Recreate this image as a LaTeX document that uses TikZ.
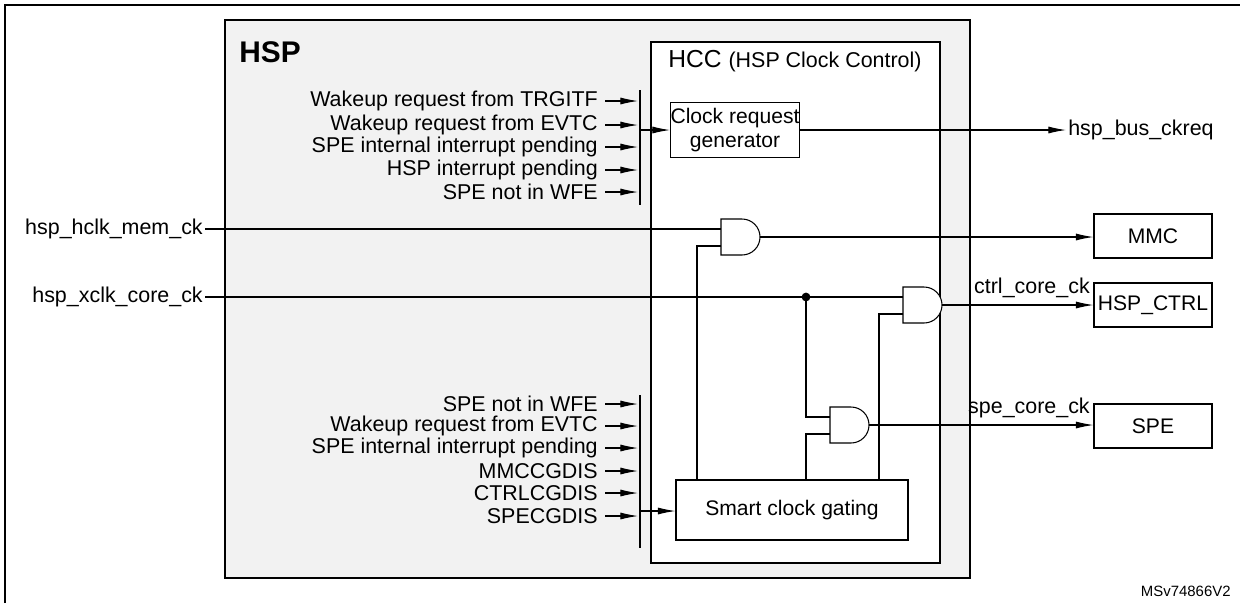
\documentclass[tikz,border=0pt]{standalone}
\usepackage{fontspec}
\setmainfont{Liberation Sans}
\usetikzlibrary{arrows.meta}
\tikzset{
    sig/.style={font=\fontsize{12.2}{13.5}\selectfont, inner sep=1pt},
    blk/.style={draw, fill=white, font=\fontsize{12}{13.5}\selectfont, align=center, inner sep=0pt},
    arr/.style={-{Latex[length=10pt,width=4pt]}},
    pics/andg/.style={code={
        \draw[fill=white] (0,0) -- (21,0) arc[start angle=-90,end angle=90,radius=18] -- (0,36) -- cycle;
        \coordinate (-a) at (0,10);
        \coordinate (-b) at (0,27);
        \coordinate (-o) at (39,18);
    }}
}
\begin{document}
\begin{tikzpicture}[x=0.02cm, y=-0.02cm, line width=0.6pt]
    \useasboundingbox (0,0) rectangle (1240,603);
    \draw[line width=1pt] (5,603) -- (5,5) -- (1240,5);
    % HSP and HCC frames
    \draw[fill=black!5] (225,20) rectangle (970,578);
    \node[anchor=west, font=\fontsize{17}{19}\selectfont\bfseries] (hsp) at (233,52) {HSP};
    \draw[fill=white] (651,42) rectangle (940,563);
    \node[anchor=north, inner sep=0pt] (hcc) at (795,50) {\fontsize{14}{16}\selectfont HCC \fontsize{12.2}{13.5}\selectfont(HSP Clock Control)};
    % request inputs
    \coordinate (bust) at (640,90);
    \coordinate (busb) at (640,205);
    \draw (bust) -- (busb);
    \foreach \y/\t/\n in {101/Wakeup request from TRGITF/r1, 125/Wakeup request from EVTC/r2,
        147/SPE internal interrupt pending/r3, 170/HSP interrupt pending/r4, 192/SPE not in WFE/r5} {
        \node[sig, anchor=east] (\n) at (600,\y) {\t};
        \coordinate (\n b) at (638,\y);
        \draw[arr] ([xshift=3pt]\n.east) -- (\n b);
    }
    \node[blk, minimum width=118*0.02cm, minimum height=55*0.02cm] (crg) at (735,130) {Clock request\\generator};
    \coordinate (crgin) at (640,130);
    \draw[arr] (crgin) -- (crg.west);
    \node[sig, anchor=west] (ckreq) at (1066,130) {hsp\_bus\_ckreq};
    \draw[arr] (crg.east) -- (ckreq.west);
    % gating inputs
    \coordinate (gbt) at (640,395);
    \coordinate (gbb) at (640,548);
    \draw (gbt) -- (gbb);
    \foreach \y/\t/\n in {404/SPE not in WFE/g1, 426/Wakeup request from EVTC/g2,
        448/SPE internal interrupt pending/g3, 471/MMCCGDIS/g4, 493/CTRLCGDIS/g5, 516/SPECGDIS/g6} {
        \node[sig, anchor=east] (\n) at (600,\y) {\t};
        \coordinate (\n b) at (638,\y);
        \draw[arr] ([xshift=3pt]\n.east) -- (\n b);
    }
    \node[blk, minimum width=232*0.02cm, minimum height=60*0.02cm] (scg) at (792,510) {Smart clock gating};
    \coordinate (scgin) at (640,511);
    \draw[arr] (scgin) -- (scg.west |- scgin);
    % gates
    \pic (and1) at (721,219) {andg};
    \pic (and2) at (903,287) {andg};
    \pic (and3) at (830,407) {andg};
    \node[sig, anchor=east] (hclk) at (205,229) {hsp\_hclk\_mem\_ck};
    \node[sig, anchor=east] (xclk) at (205,297) {hsp\_xclk\_core\_ck};
    \draw (hclk.east) -- (and1-a);
    \coordinate (dot) at (806,297);
    \draw (xclk.east) -- (dot) -- (and2-a);
    \fill (dot) circle (2.5pt);
    \draw (dot) |- (and3-a);
    \draw (and1-b) -| (scg.north -| 697,0);
    \draw (and3-b) -| (scg.north -| 806,0);
    \draw (and2-b) -| (scg.north -| 879,0);
    % outputs
    \node[blk, minimum width=118*0.02cm, minimum height=44*0.02cm] (mmc) at (1153,236) {MMC};
    \node[blk, minimum width=118*0.02cm, minimum height=44*0.02cm] (ctrl) at (1153,305) {HSP\_CTRL};
    \node[blk, minimum width=118*0.02cm, minimum height=44*0.02cm] (spe) at (1153,426) {SPE};
    \draw[arr] (and1-o) -- (mmc.west |- and1-o);
    \draw[arr] (and2-o) -- (ctrl.west |- and2-o);
    \draw[arr] (and3-o) -- (spe.west |- and3-o);
    \node[sig, anchor=south east] (ctrlck) at (1092,300) {ctrl\_core\_ck};
    \node[sig, anchor=south east] (speck) at (1092,420) {spe\_core\_ck};
    \node[anchor=east, font=\fontsize{8.5}{10}\selectfont] (ref) at (1237,591) {MSv74866V2};
\end{tikzpicture}
\end{document}
